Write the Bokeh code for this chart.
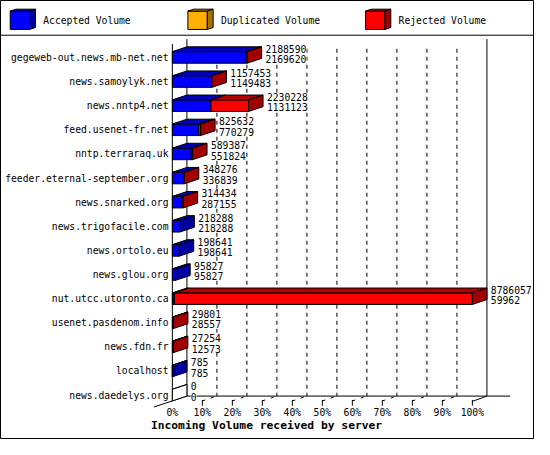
from bokeh.plotting import figure
from bokeh.models import Range1d
from bokeh.core.properties import value
from bokeh.embed import file_html
from bokeh.resources import INLINE

# ---- data ----
servers = ["gegeweb-out.news.mb-net.net", "news.samoylyk.net", "news.nntp4.net",
           "feed.usenet-fr.net", "nntp.terraraq.uk", "feeder.eternal-september.org",
           "news.snarked.org", "news.trigofacile.com", "news.ortolo.eu", "news.glou.org",
           "nut.utcc.utoronto.ca", "usenet.pasdenom.info", "news.fdn.fr", "localhost",
           "news.daedelys.org"]
total_volume = [2188590, 1157453, 2230228, 825632, 589387, 348276, 314434, 218288,
                198641, 95827, 8786057, 29801, 27254, 785, 0]
accepted_volume = [2169620, 1149483, 1131123, 770279, 551824, 336839, 287155, 218288,
                   198641, 95827, 59962, 28557, 12573, 785, 0]
duplicated_volume = [0, 0, 0, 0, 0, 0, 0, 0, 0, 0, 0, 0, 0, 0, 0]
tick_labels = ["0%", "10%", "20%", "30%", "40%", "50%", "60%", "70%", "80%", "90%", "100%"]
tick_values = [0, 10, 20, 30, 40, 50, 60, 70, 80, 90, 100]
legend_names = ["Accepted Volume", "Duplicated Volume", "Rejected Volume"]
x_title = "Incoming Volume received by server"

# ---- style ----
FRONT = ["#0000ff", "#ffb000", "#ff0000"]
TOP = ["#0000b4", "#c08400", "#b40000"]
SIDE = ["#0000a0", "#a87400", "#a00000"]
FONT = value("DejaVu Sans Mono")
FS = "9.7px"

# layout helpers (reference pixel -> data units)
X0, PXPCT = 177.0, 3.09
ROW0, ROWH = 59.0, 25.0
def X(px):
    return (px - X0) / PXPCT
def Y(py):
    return (py - ROW0) / ROWH

DX = 15 / PXPCT
DY = 5 / ROWH
HH = 6 / ROWH

p = figure(width=534, height=439, output_backend="svg", toolbar_location=None,
           x_range=Range1d(X(0), X(550)), y_range=Range1d(Y(455), Y(0)),
           x_axis_location=None, y_axis_location=None, min_border=0,
           background_fill_color="white", border_fill_color="white")
p.grid.visible = False
p.outline_line_color = "black"
p.outline_line_width = 1

# ---- walls / floor / grid ----
gx = [X(192) + t for t in tick_values[1:-1]]
p.segment(x0=gx, y0=[Y(50)] * len(gx), x1=gx, y1=[Y(410)] * len(gx),
          line_color="black", line_width=1, line_dash="4 4")
fx = [t for t in tick_values[1:-1]]
p.segment(x0=fx, y0=[Y(415)] * len(fx), x1=[t + DX for t in fx], y1=[Y(410)] * len(fx),
          line_color="black", line_width=1, line_dash="3 6")
tx = tick_values[1:]
p.segment(x0=tx, y0=[Y(414)] * len(tx), x1=tx, y1=[Y(420)] * len(tx),
          line_color="black", line_width=1)
wx0 = [0, DX, 100 + DX, DX, X(158), 100]
wy0 = [Y(45), Y(40), Y(40), Y(410), Y(421.3), Y(415.5)]
wx1 = [0, DX, 100 + DX, X(525), DX, 100 + DX]
wy1 = [Y(415), Y(410), Y(410), Y(410), Y(410), Y(410)]
p.segment(x0=wx0, y0=wy0, x1=wx1, y1=wy1, line_color="black", line_width=1)

# ---- bars ----
vmax = max(total_volume)
fl, fr, ft, fb, fc = [], [], [], [], []
pxs, pys, pcs = [], [], []
lab_x, lab_y, lab_t = [], [], []
for i, name in enumerate(servers):
    tot = total_volume[i]
    acc = accepted_volume[i]
    dup = duplicated_volume[i]
    rej = tot - acc - dup
    parts = [acc, dup, rej]
    top, bot = i - HH, i + HH
    start = 0.0
    last = None
    for k, v in enumerate(parts):
        w = v / vmax * 100
        if v > 0:
            fl.append(start); fr.append(start + w); ft.append(top); fb.append(bot)
            fc.append(FRONT[k])
            pxs.append([start, start + w, start + w + DX, start + DX])
            pys.append([top, top, top - DY, top - DY])
            pcs.append(TOP[k])
            last = k
        start += w
    end = tot / vmax * 100
    if last is None:
        pxs.append([0, DX])
        pys.append([top, top - DY])
        pcs.append("white")
    pxs.append([end, end + DX, end + DX, end])
    pys.append([top, top - DY, bot - DY, bot])
    pcs.append(SIDE[last] if last is not None else "white")
    lab_x += [end + DX + 4 / PXPCT] * 2
    lab_y += [i - 9 / ROWH, i + 1.8 / ROWH]
    lab_t += [str(tot), str(acc)]

p.quad(left=fl, right=fr, top=ft, bottom=fb, fill_color=fc,
       line_color="black", line_width=1)
p.patches(xs=pxs, ys=pys, fill_color=pcs, line_color="black", line_width=1)

p.text(x=lab_x, y=lab_y, text=lab_t, text_font=FONT, text_font_size=FS,
       text_align="left", text_baseline="middle", text_color="black",
       background_fill_color="white")

# category labels
p.text(x=[X(173)] * len(servers), y=list(range(len(servers))), text=servers,
       text_font=FONT, text_font_size=FS, text_align="right",
       text_baseline="middle", text_color="black")

# x tick labels
p.text(x=tick_values, y=[Y(427)] * len(tick_values), text=tick_labels,
       text_font=FONT, text_font_size=FS, text_align="center",
       text_baseline="middle", text_color="black")

# axis title
p.text(x=[X(274)], y=[Y(441)], text=[x_title], text_font=FONT,
       text_font_size="11.3px", text_font_style="bold", text_align="center",
       text_baseline="middle", text_color="black")

# ---- legend ----
p.segment(x0=[X(0)], y0=[Y(36)], x1=[X(550)], y1=[Y(36)], line_color="black", line_width=1)
lg_left = [10, 193, 376]
cw, ct, cb, cdx, cdy = 20, 11, 30, 6, 2
lxs, lys, lcs = [], [], []
for k in range(3):
    l, r = lg_left[k], lg_left[k] + cw
    lxs += [[X(l), X(r), X(r), X(l)],
            [X(l), X(r), X(r + cdx), X(l + cdx)],
            [X(r), X(r + cdx), X(r + cdx), X(r)]]
    lys += [[Y(ct), Y(ct), Y(cb), Y(cb)],
            [Y(ct), Y(ct), Y(ct - cdy), Y(ct - cdy)],
            [Y(ct), Y(ct - cdy), Y(cb - cdy), Y(cb)]]
    lcs += [FRONT[k], TOP[k], SIDE[k]]
p.patches(xs=lxs, ys=lys, fill_color=lcs, line_color="black", line_width=1)
p.text(x=[X(l + 34) for l in lg_left], y=[Y(21)] * 3, text=legend_names,
       text_font=FONT, text_font_size=FS, text_align="left",
       text_baseline="middle", text_color="black")

open("out.html", "w").write(file_html(p, INLINE))
